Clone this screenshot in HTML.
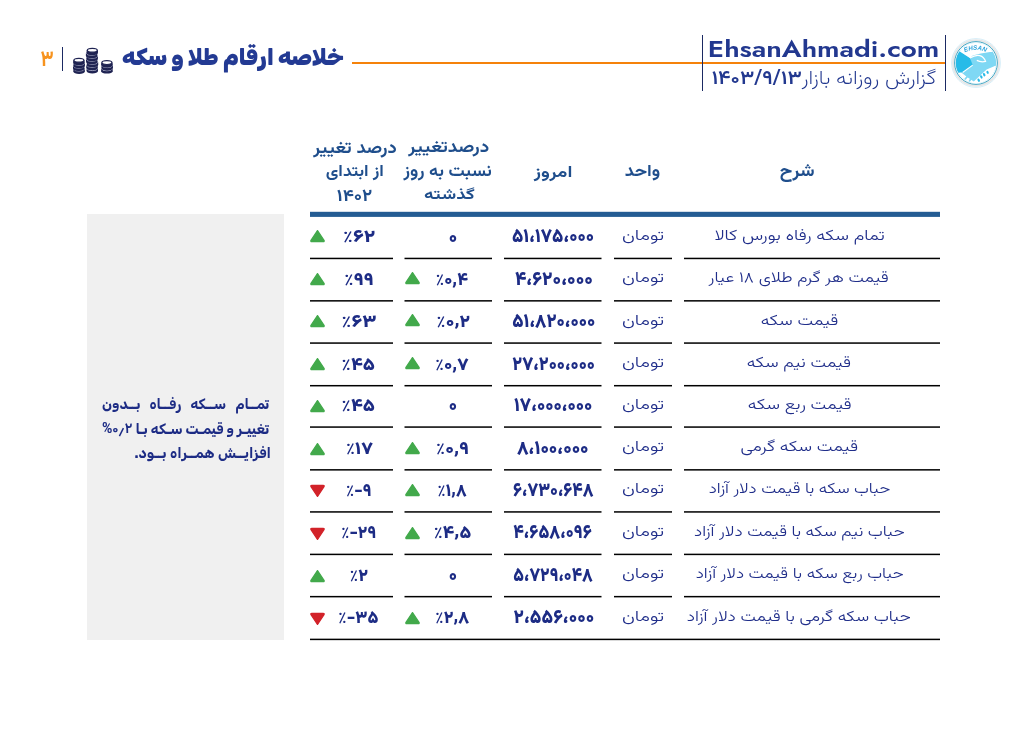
<!DOCTYPE html>
<html lang="fa" dir="rtl">
<head>
<meta charset="utf-8">
<title>خلاصه ارقام طلا و سکه</title>
<style>
html,body{margin:0;padding:0;background:#fff;}
body{width:1032px;height:729px;position:relative;overflow:hidden;
 font-family:"Vazirmatn","DejaVu Sans",sans-serif;color:#2b3990;}
body.fbv .c1,body.fbv .c2,body.fbv #sub{font-weight:400;}
body.fbr .note{font-size:11.5px;}
.a{position:absolute;white-space:nowrap;}
.hl{position:absolute;background:#f5820a;height:2px;}
.vl{position:absolute;background:#1b2a63;width:1.5px;}
#title{font-family:"Rubik","DejaVu Sans",sans-serif;font-weight:900;font-size:25px;color:#233a93;line-height:36px;}
#pg{font-size:21px;color:#f7931e;font-weight:700;line-height:28px;}
#site{font-family:"Jost","Liberation Sans",sans-serif;font-weight:600;font-size:25.5px;color:#22388f;line-height:34px;direction:ltr;}
#sub{font-size:19px;color:#22388f;line-height:30px;font-weight:220;}
#date{font-size:19px;color:#22388f;line-height:30px;font-weight:600;}
.th{position:absolute;text-align:center;color:#1f4e8c;font-weight:700;font-size:15px;line-height:23.7px;white-space:nowrap;}
.ln{position:absolute;height:1.6px;background:#111;}
.blue{position:absolute;left:310px;width:630px;top:212px;height:5px;background:#245a94;}
.c{position:absolute;text-align:center;height:42px;line-height:42px;white-space:nowrap;}
.t{display:inline-block;transform-origin:0 0;}
.c1{left:660px;width:280px;font-size:15px;font-weight:360;color:#202e8a;}
.c2{left:614px;width:58px;font-size:15px;font-weight:360;color:#202e8a;}
.c3{left:504px;width:97px;font-size:18.5px;font-weight:900;color:#1d2c85;}
.c4{left:414px;width:78px;font-size:17.5px;font-weight:900;color:#1d2c85;}
.c4z{left:404.5px;width:87.5px;font-size:16px;font-weight:800;color:#1d2c85;}
.c5{left:325px;width:68px;font-size:17.5px;font-weight:900;color:#1d2c85;}
.n{direction:ltr;unicode-bidi:bidi-override;}
.pc{font-weight:400;}
.cm{position:relative;top:-1.6px;}
.grey{position:absolute;left:87px;top:214.4px;width:197px;height:425.3px;background:#f0f0f0;}
.note{position:absolute;transform-origin:0 0;font-family:"Rubik","DejaVu Sans",sans-serif;font-size:14px;font-weight:700;color:#1d2c85;line-height:24px;white-space:nowrap;display:flex;justify-content:space-between;direction:rtl;}
</style>
</head>
<body>
<!-- header -->
<div class="hl" style="left:352px;width:593px;top:62.2px;"></div>
<div class="a" style="left:123px;top:40px"><span id="title" class="t" style="transform:translate(-0.88px,2.45px) scale(0.8835,0.8835)">خلاصه ارقام طلا و سکه</span></div>
<div class="vl" style="left:61.5px;top:47px;height:23.5px;"></div>
<div class="a" style="left:38px;top:44px"><span id="pg" class="t" style="transform:translate(2.58px,2.23px) scale(0.9231,1.0536)">۳</span></div>
<svg id="coins" class="a" style="left:70px;top:44px" width="46" height="31" viewBox="0 0 46 31">
<ellipse cx="9.10" cy="27.50" rx="5.7" ry="2.4" fill="#1f2352"/>
<rect x="3.40" y="25.10" width="11.4" height="2.4" fill="#1f2352"/>
<ellipse cx="9.10" cy="25.10" rx="5.2" ry="2.0" fill="#1f2352" stroke="#c9cbe0" stroke-width="0.7"/>
<ellipse cx="8.70" cy="24.60" rx="5.7" ry="2.4" fill="#1f2352"/>
<rect x="3.00" y="22.20" width="11.4" height="2.4" fill="#1f2352"/>
<ellipse cx="8.70" cy="22.20" rx="5.2" ry="2.0" fill="#1f2352" stroke="#c9cbe0" stroke-width="0.7"/>
<ellipse cx="9.20" cy="21.70" rx="5.7" ry="2.4" fill="#1f2352"/>
<rect x="3.50" y="19.30" width="11.4" height="2.4" fill="#1f2352"/>
<ellipse cx="9.20" cy="19.30" rx="5.2" ry="2.0" fill="#1f2352" stroke="#c9cbe0" stroke-width="0.7"/>
<ellipse cx="8.90" cy="18.70" rx="5.7" ry="2.4" fill="#1f2352"/>
<rect x="3.20" y="16.30" width="11.4" height="2.4" fill="#1f2352"/>
<ellipse cx="8.90" cy="16.30" rx="5.0" ry="1.9" fill="#fff" stroke="#1f2352" stroke-width="1.2"/>
<ellipse cx="22.30" cy="27.00" rx="5.7" ry="2.4" fill="#1f2352"/>
<rect x="16.60" y="24.60" width="11.4" height="2.4" fill="#1f2352"/>
<ellipse cx="22.30" cy="24.60" rx="5.2" ry="2.0" fill="#1f2352" stroke="#c9cbe0" stroke-width="0.7"/>
<ellipse cx="22.00" cy="23.70" rx="5.7" ry="2.4" fill="#1f2352"/>
<rect x="16.30" y="21.30" width="11.4" height="2.4" fill="#1f2352"/>
<ellipse cx="22.00" cy="21.30" rx="5.2" ry="2.0" fill="#1f2352" stroke="#c9cbe0" stroke-width="0.7"/>
<ellipse cx="22.50" cy="20.70" rx="5.7" ry="2.4" fill="#1f2352"/>
<rect x="16.80" y="18.30" width="11.4" height="2.4" fill="#1f2352"/>
<ellipse cx="22.50" cy="18.30" rx="5.2" ry="2.0" fill="#1f2352" stroke="#c9cbe0" stroke-width="0.7"/>
<ellipse cx="21.70" cy="17.70" rx="5.7" ry="2.4" fill="#1f2352"/>
<rect x="16.00" y="15.30" width="11.4" height="2.4" fill="#1f2352"/>
<ellipse cx="21.70" cy="15.30" rx="5.2" ry="2.0" fill="#1f2352" stroke="#c9cbe0" stroke-width="0.7"/>
<ellipse cx="22.20" cy="14.70" rx="5.7" ry="2.4" fill="#1f2352"/>
<rect x="16.50" y="12.30" width="11.4" height="2.4" fill="#1f2352"/>
<ellipse cx="22.20" cy="12.30" rx="5.2" ry="2.0" fill="#1f2352" stroke="#c9cbe0" stroke-width="0.7"/>
<ellipse cx="21.60" cy="11.70" rx="5.7" ry="2.4" fill="#1f2352"/>
<rect x="15.90" y="9.30" width="11.4" height="2.4" fill="#1f2352"/>
<ellipse cx="21.60" cy="9.30" rx="5.2" ry="2.0" fill="#1f2352" stroke="#c9cbe0" stroke-width="0.7"/>
<ellipse cx="22.30" cy="8.70" rx="5.7" ry="2.4" fill="#1f2352"/>
<rect x="16.60" y="6.30" width="11.4" height="2.4" fill="#1f2352"/>
<ellipse cx="22.30" cy="6.30" rx="5.0" ry="1.9" fill="#fff" stroke="#1f2352" stroke-width="1.2"/>
<ellipse cx="36.90" cy="27.20" rx="5.7" ry="2.4" fill="#1f2352"/>
<rect x="31.20" y="24.80" width="11.4" height="2.4" fill="#1f2352"/>
<ellipse cx="36.90" cy="24.80" rx="5.2" ry="2.0" fill="#1f2352" stroke="#c9cbe0" stroke-width="0.7"/>
<ellipse cx="37.20" cy="24.00" rx="5.7" ry="2.4" fill="#1f2352"/>
<rect x="31.50" y="21.60" width="11.4" height="2.4" fill="#1f2352"/>
<ellipse cx="37.20" cy="21.60" rx="5.2" ry="2.0" fill="#1f2352" stroke="#c9cbe0" stroke-width="0.7"/>
<ellipse cx="36.90" cy="21.00" rx="5.7" ry="2.4" fill="#1f2352"/>
<rect x="31.20" y="18.60" width="11.4" height="2.4" fill="#1f2352"/>
<ellipse cx="36.90" cy="18.60" rx="5.0" ry="1.9" fill="#fff" stroke="#1f2352" stroke-width="1.2"/>
</svg>
<div class="vl" style="left:701.5px;top:35px;height:56px;"></div>
<div class="a" style="left:708px;top:30px;direction:ltr"><span id="site" class="t" style="transform:translate(-0.18px,3.88px) scale(1.0914,0.9250)">EhsanAhmadi.com</span></div>
<div class="a" style="left:803px;top:64px"><span id="sub" class="t" style="transform:translate(-1.60px,0.12px) scale(1.1311,1.0450)">گزارش روزانه بازار</span></div>
<div class="a" style="left:712px;top:64px"><span id="date" class="t n" style="transform:translate(-0.37px,0.40px) scale(1.1203,1.0167)">۱۴۰۳/۹/۱۳</span></div>
<div class="vl" style="left:944.8px;top:35.2px;height:56px;"></div>
<svg id="logo" class="a" style="left:949.6px;top:37px" width="52" height="52" viewBox="0 0 52 52">
 <defs><clipPath id="lc"><circle cx="26" cy="26" r="20.2"/></clipPath>
 <path id="arc" d="M11.5 17.2 Q25 8.6 39.5 16.6" fill="none"/></defs>
 <circle cx="26" cy="26" r="24.4" fill="#fbfdfe" stroke="#d2ecf7" stroke-width="0.9"/>
 <circle cx="26" cy="26" r="22.9" fill="none" stroke="#e6e6e6" stroke-width="1.8"/>
 <circle cx="26" cy="26" r="21.4" fill="#fff" stroke="#2f9cbc" stroke-width="0.9"/>
 <g clip-path="url(#lc)">
  <rect x="0" y="0" width="52" height="52" fill="#7fd8f4"/>
  <path d="M0 12.5 L9.5 14.2 L19.9 20.9 L22.7 28.1 L12.6 35.5 L0 37 Z" fill="#27bbe8"/>
  <path d="M0 0 H52 V14.5 L40 14.9 Q30 16.2 22.8 18.6 L19.9 20.9 L9.5 14.2 L0 12.5 Z" fill="#fff"/>
  <path d="M0 36.5 L11.4 35.6 L17 40 L23.8 44.6 L36.6 32.4 L44.8 28.9 L52 27.5 V52 H0 Z" fill="#fff"/>
  <path d="M15.2 42 L20.2 36.4 M19.6 43.8 L22.6 39.8" stroke="#7fd8f4" stroke-width="1.7" stroke-linecap="round"/>
  <g fill="#27bbe8">
   <ellipse cx="28.7" cy="43.2" rx="1.1" ry="1.8" transform="rotate(-25 28.7 43.2)"/>
   <ellipse cx="31.3" cy="39.9" rx="1.1" ry="1.8" transform="rotate(-25 31.3 39.9)"/>
   <ellipse cx="34.2" cy="37.7" rx="1.1" ry="1.8" transform="rotate(-25 34.2 37.7)"/>
   <ellipse cx="37.6" cy="35.4" rx="1.1" ry="1.6" transform="rotate(-25 37.6 35.4)"/>
  </g>
  <path d="M19.9 21 Q25.5 17.6 29.8 18.6 Q34 19.8 35.6 24.4 Q31 25.6 26.8 23.4" fill="none" stroke="#fff" stroke-width="1.2"/>
  <path d="M22.7 28.1 L12.6 35.5" stroke="#fff" stroke-width="1.1"/>
 </g>
 <text font-family="Liberation Sans,sans-serif" font-weight="bold" font-style="italic" font-size="6.3" fill="#2aa3dc"><textPath href="#arc" startOffset="50%" text-anchor="middle">EHSAN</textPath></text>
</svg>
<!-- table header -->
<div class="th" style="left:684px;width:256px;top:160px;"><span id="h1" class="t" style="transform:translate(-18.28px,-1.83px) scale(1.2375,1.1667)">شرح</span></div>
<div class="th" style="left:614px;width:58px;top:160px;"><span id="h2" class="t" style="transform:translate(-3.13px,-0.71px) scale(1.2143,1.1214)">واحد</span></div>
<div class="th" style="left:504px;width:97px;top:160px;"><span id="h3" class="t" style="transform:translate(-2.99px,0.99px) scale(1.2700,1.0429)">امروز</span></div>
<div class="th" style="left:395px;width:106px;top:137px;"><span id="h4a" class="t" style="transform:translate(-7.77px,-1.39px) scale(1.2698,1.1154)">درصدتغییر</span></div>
<div class="th" style="left:395px;width:106px;top:161px;"><span id="h4b" class="t" style="transform:translate(-7.61px,-1.69px) scale(1.1945,1.1154)">نسبت به روز</span></div>
<div class="th" style="left:395px;width:106px;top:184px;"><span id="h4c" class="t" style="transform:translate(-3.88px,0.90px) scale(1.2475,0.9667)">گذشته</span></div>
<div class="th" style="left:300px;width:103px;top:137px;"><span id="h5a" class="t" style="transform:translate(-4.83px,-1.53px) scale(1.2368,1.1385)">درصد تغییر</span></div>
<div class="th" style="left:300px;width:103px;top:161px;"><span id="h5b" class="t" style="transform:translate(-1.27px,-0.18px) scale(1.1673,1.0357)">از ابتدای</span></div>
<div class="th" style="left:300px;width:103px;top:184px;"><span id="h5c" class="t" style="transform:translate(-0.16px,0.10px) scale(1.2556,1.1200)">۱۴۰۲</span></div>
<div class="grey"></div>
<div id="note1" class="note" style="left:102px;width:167px;top:391px;transform:translate(0.00px,2.20px) scale(1.0018,1.0000)"><span>تمــام</span><span>ســکه</span><span>رفــاه</span><span>بــدون</span></div>
<div id="note2" class="note" style="left:102px;width:167px;top:416px;transform:translate(0.00px,1.80px) scale(1.0018,1.0000)"><span>تغییـر</span><span>و</span><span>قیمـت</span><span>سـکه</span><span>بـا</span><span class="n" style="font-family:Vazirmatn,'DejaVu Sans',sans-serif">%۰٫۲</span></div>
<div id="note3" class="note" style="left:134.6px;width:134.7px;top:440px;transform:translate(-0.41px,1.70px) scale(1.0128,1.0000)"><span>افزایــش</span><span>همــراه</span><span>بــود.</span></div>
<svg class="a" style="left:0;top:0" width="1032" height="729" viewBox="0 0 1032 729"><g fill="#000"><rect x="310" y="257.70" width="83" height="1.5"/><rect x="404.5" y="257.70" width="87.5" height="1.5"/><rect x="504" y="257.70" width="97.5" height="1.5"/><rect x="614" y="257.70" width="58" height="1.5"/><rect x="684" y="257.70" width="256" height="1.5"/><rect x="310" y="300.10" width="83" height="1.5"/><rect x="404.5" y="300.10" width="87.5" height="1.5"/><rect x="504" y="300.10" width="97.5" height="1.5"/><rect x="614" y="300.10" width="58" height="1.5"/><rect x="684" y="300.10" width="256" height="1.5"/><rect x="310" y="342.32" width="83" height="1.5"/><rect x="404.5" y="342.32" width="87.5" height="1.5"/><rect x="504" y="342.32" width="97.5" height="1.5"/><rect x="614" y="342.32" width="58" height="1.5"/><rect x="684" y="342.32" width="256" height="1.5"/><rect x="310" y="384.95" width="83" height="1.5"/><rect x="404.5" y="384.95" width="87.5" height="1.5"/><rect x="504" y="384.95" width="97.5" height="1.5"/><rect x="614" y="384.95" width="58" height="1.5"/><rect x="684" y="384.95" width="256" height="1.5"/><rect x="310" y="426.32" width="83" height="1.5"/><rect x="404.5" y="426.32" width="87.5" height="1.5"/><rect x="504" y="426.32" width="97.5" height="1.5"/><rect x="614" y="426.32" width="58" height="1.5"/><rect x="684" y="426.32" width="256" height="1.5"/><rect x="310" y="469.10" width="83" height="1.5"/><rect x="404.5" y="469.10" width="87.5" height="1.5"/><rect x="504" y="469.10" width="97.5" height="1.5"/><rect x="614" y="469.10" width="58" height="1.5"/><rect x="684" y="469.10" width="256" height="1.5"/><rect x="310" y="511.18" width="83" height="1.5"/><rect x="404.5" y="511.18" width="87.5" height="1.5"/><rect x="504" y="511.18" width="97.5" height="1.5"/><rect x="614" y="511.18" width="58" height="1.5"/><rect x="684" y="511.18" width="256" height="1.5"/><rect x="310" y="553.65" width="83" height="1.5"/><rect x="404.5" y="553.65" width="87.5" height="1.5"/><rect x="504" y="553.65" width="97.5" height="1.5"/><rect x="614" y="553.65" width="58" height="1.5"/><rect x="684" y="553.65" width="256" height="1.5"/><rect x="310" y="595.90" width="83" height="1.5"/><rect x="404.5" y="595.90" width="87.5" height="1.5"/><rect x="504" y="595.90" width="97.5" height="1.5"/><rect x="614" y="595.90" width="58" height="1.5"/><rect x="684" y="595.90" width="256" height="1.5"/><rect x="310" y="638.65" width="630" height="1.5"/><rect x="310" y="211.8" width="630" height="5.1" fill="#245c93"/></g></svg>
<div class="c c1" style="top:217.0px"><span id="r0c1" class="t" style="transform:translate(-14.60px,-1.05px) scale(1.1993,1.0000)">تمام سکه رفاه بورس کالا</span></div>
<div class="c c2" style="top:217.0px"><span id="r0c2" class="t" style="transform:translate(-4.05px,-1.05px) scale(1.2781,1.0000)">تومان</span></div>
<div class="c c3" style="top:217.0px"><span id="r0c3" class="t n" style="transform:translate(1.01px,-0.65px) scale(0.9914,1.0400)">۵۱،۱۷۵،۰۰۰</span></div>
<div class="c c4" style="top:217.0px"><span id="r0c4" class="t" style="transform:translate(-0.26px,-1.80px) scale(1.0667,1.1000)">۰</span></div>
<div class="c c5" style="top:217.0px"><span id="r0c5" class="t n" style="transform:translate(-2.23px,0.35px) scale(1.1962,1.0000)"><span class="pc">٪</span>۶۲</span></div>
<svg id="r0t5" class="a" style="left:309.3px;top:229.2px" width="17" height="14" viewBox="0 0 17 14"><path d="M8.5 1.6 L15 11.4 Q15.6 12.6 14.2 12.6 L2.8 12.6 Q1.4 12.6 2 11.4 Z" fill="#42a94b" stroke="#42a94b" stroke-width="1.3" stroke-linejoin="round"/></svg>
<div class="c c1" style="top:258.4px"><span id="r1c1" class="t" style="transform:translate(-13.40px,0.35px) scale(1.1604,1.0000)">قیمت هر گرم طلای ۱۸ عیار</span></div>
<div class="c c2" style="top:258.4px"><span id="r1c2" class="t" style="transform:translate(-4.05px,0.35px) scale(1.2781,1.0000)">تومان</span></div>
<div class="c c3" style="top:258.4px"><span id="r1c3" class="t n" style="transform:translate(-0.11px,0.77px) scale(1.0284,1.0400)">۴،۶۲۰،۰۰۰</span></div>
<div class="c c4" style="top:258.4px"><span id="r1c4" class="t n" style="transform:translate(-1.62px,1.75px) scale(1.0258,1.0000)"><span class="pc">٪</span>۰<span class="cm">,</span>۴</span></div>
<svg id="r1t4" class="a" style="left:404.0px;top:270.8px" width="17" height="14" viewBox="0 0 17 14"><path d="M8.5 1.6 L15 11.4 Q15.6 12.6 14.2 12.6 L2.8 12.6 Q1.4 12.6 2 11.4 Z" fill="#42a94b" stroke="#42a94b" stroke-width="1.3" stroke-linejoin="round"/></svg>
<div class="c c5" style="top:258.4px"><span id="r1c5" class="t n" style="transform:translate(-2.05px,1.75px) scale(1.1292,1.0000)"><span class="pc">٪</span>۹۹</span></div>
<svg id="r1t5" class="a" style="left:309.3px;top:271.8px" width="17" height="14" viewBox="0 0 17 14"><path d="M8.5 1.6 L15 11.4 Q15.6 12.6 14.2 12.6 L2.8 12.6 Q1.4 12.6 2 11.4 Z" fill="#42a94b" stroke="#42a94b" stroke-width="1.3" stroke-linejoin="round"/></svg>
<div class="c c1" style="top:300.9px"><span id="r2c1" class="t" style="transform:translate(-6.27px,-0.43px) scale(1.1766,1.0000)">قیمت سکه</span></div>
<div class="c c2" style="top:300.9px"><span id="r2c2" class="t" style="transform:translate(-4.05px,-0.43px) scale(1.2781,1.0000)">تومان</span></div>
<div class="c c3" style="top:300.9px"><span id="r2c3" class="t n" style="transform:translate(1.20px,-0.03px) scale(0.9915,1.0400)">۵۱،۸۲۰،۰۰۰</span></div>
<div class="c c4" style="top:300.9px"><span id="r2c4" class="t n" style="transform:translate(-1.64px,0.97px) scale(1.0931,1.0000)"><span class="pc">٪</span>۰<span class="cm">,</span>۲</span></div>
<svg id="r2t4" class="a" style="left:404.0px;top:313.2px" width="17" height="14" viewBox="0 0 17 14"><path d="M8.5 1.6 L15 11.4 Q15.6 12.6 14.2 12.6 L2.8 12.6 Q1.4 12.6 2 11.4 Z" fill="#42a94b" stroke="#42a94b" stroke-width="1.3" stroke-linejoin="round"/></svg>
<div class="c c5" style="top:300.9px"><span id="r2c5" class="t n" style="transform:translate(-2.76px,0.97px) scale(1.1857,1.0000)"><span class="pc">٪</span>۶۳</span></div>
<svg id="r2t5" class="a" style="left:309.3px;top:314.2px" width="17" height="14" viewBox="0 0 17 14"><path d="M8.5 1.6 L15 11.4 Q15.6 12.6 14.2 12.6 L2.8 12.6 Q1.4 12.6 2 11.4 Z" fill="#42a94b" stroke="#42a94b" stroke-width="1.3" stroke-linejoin="round"/></svg>
<div class="c c1" style="top:343.1px"><span id="r3c1" class="t" style="transform:translate(-8.19px,0.20px) scale(1.1705,1.0000)">قیمت نیم سکه</span></div>
<div class="c c2" style="top:343.1px"><span id="r3c2" class="t" style="transform:translate(-4.05px,0.20px) scale(1.2781,1.0000)">تومان</span></div>
<div class="c c3" style="top:343.1px"><span id="r3c3" class="t n" style="transform:translate(2.20px,0.60px) scale(0.9714,1.0400)">۲۷،۲۰۰،۰۰۰</span></div>
<div class="c c4" style="top:343.1px"><span id="r3c4" class="t n" style="transform:translate(-2.05px,1.60px) scale(1.0516,1.0000)"><span class="pc">٪</span>۰<span class="cm">,</span>۷</span></div>
<svg id="r3t4" class="a" style="left:404.0px;top:355.8px" width="17" height="14" viewBox="0 0 17 14"><path d="M8.5 1.6 L15 11.4 Q15.6 12.6 14.2 12.6 L2.8 12.6 Q1.4 12.6 2 11.4 Z" fill="#42a94b" stroke="#42a94b" stroke-width="1.3" stroke-linejoin="round"/></svg>
<div class="c c5" style="top:343.1px"><span id="r3c5" class="t n" style="transform:translate(-2.72px,1.60px) scale(1.1241,1.0000)"><span class="pc">٪</span>۴۵</span></div>
<svg id="r3t5" class="a" style="left:309.3px;top:356.8px" width="17" height="14" viewBox="0 0 17 14"><path d="M8.5 1.6 L15 11.4 Q15.6 12.6 14.2 12.6 L2.8 12.6 Q1.4 12.6 2 11.4 Z" fill="#42a94b" stroke="#42a94b" stroke-width="1.3" stroke-linejoin="round"/></svg>
<div class="c c1" style="top:385.7px"><span id="r4c1" class="t" style="transform:translate(-8.18px,-1.43px) scale(1.1802,1.0000)">قیمت ربع سکه</span></div>
<div class="c c2" style="top:385.7px"><span id="r4c2" class="t" style="transform:translate(-4.05px,-1.43px) scale(1.2781,1.0000)">تومان</span></div>
<div class="c c3" style="top:385.7px"><span id="r4c3" class="t n" style="transform:translate(1.01px,-1.04px) scale(0.9935,1.0400)">۱۷،۰۰۰،۰۰۰</span></div>
<div class="c c4" style="top:385.7px"><span id="r4c4" class="t" style="transform:translate(-0.15px,-2.21px) scale(1.0500,1.1000)">۰</span></div>
<div class="c c5" style="top:385.7px"><span id="r4c5" class="t n" style="transform:translate(-2.72px,-0.03px) scale(1.1241,1.0000)"><span class="pc">٪</span>۴۵</span></div>
<svg id="r4t5" class="a" style="left:309.3px;top:399.2px" width="17" height="14" viewBox="0 0 17 14"><path d="M8.5 1.6 L15 11.4 Q15.6 12.6 14.2 12.6 L2.8 12.6 Q1.4 12.6 2 11.4 Z" fill="#42a94b" stroke="#42a94b" stroke-width="1.3" stroke-linejoin="round"/></svg>
<div class="c c1" style="top:427.1px"><span id="r5c1" class="t" style="transform:translate(-9.50px,0.35px) scale(1.1867,1.0000)">قیمت سکه گرمی</span></div>
<div class="c c2" style="top:427.1px"><span id="r5c2" class="t" style="transform:translate(-4.05px,0.35px) scale(1.2781,1.0000)">تومان</span></div>
<div class="c c3" style="top:427.1px"><span id="r5c3" class="t n" style="transform:translate(-0.01px,0.75px) scale(1.0145,1.0400)">۸،۱۰۰،۰۰۰</span></div>
<div class="c c4" style="top:427.1px"><span id="r5c4" class="t n" style="transform:translate(-2.21px,1.75px) scale(1.1000,1.0000)"><span class="pc">٪</span>۰<span class="cm">,</span>۹</span></div>
<svg id="r5t4" class="a" style="left:404.0px;top:440.8px" width="17" height="14" viewBox="0 0 17 14"><path d="M8.5 1.6 L15 11.4 Q15.6 12.6 14.2 12.6 L2.8 12.6 Q1.4 12.6 2 11.4 Z" fill="#42a94b" stroke="#42a94b" stroke-width="1.3" stroke-linejoin="round"/></svg>
<div class="c c5" style="top:427.1px"><span id="r5c5" class="t n" style="transform:translate(-1.34px,1.75px) scale(1.0913,1.0000)"><span class="pc">٪</span>۱۷</span></div>
<svg id="r5t5" class="a" style="left:309.3px;top:441.8px" width="17" height="14" viewBox="0 0 17 14"><path d="M8.5 1.6 L15 11.4 Q15.6 12.6 14.2 12.6 L2.8 12.6 Q1.4 12.6 2 11.4 Z" fill="#42a94b" stroke="#42a94b" stroke-width="1.3" stroke-linejoin="round"/></svg>
<div class="c c1" style="top:469.9px"><span id="r6c1" class="t" style="transform:translate(-11.24px,-0.57px) scale(1.1300,1.0000)">حباب سکه با قیمت دلار آزاد</span></div>
<div class="c c2" style="top:469.9px"><span id="r6c2" class="t" style="transform:translate(-4.05px,-0.57px) scale(1.2781,1.0000)">تومان</span></div>
<div class="c c3" style="top:469.9px"><span id="r6c3" class="t n" style="transform:translate(3.02px,-0.17px) scale(0.9400,1.0400)">۶،۷۳۰،۶۴۸</span></div>
<div class="c c4" style="top:469.9px"><span id="r6c4" class="t n" style="transform:translate(-0.69px,0.83px) scale(0.9862,1.0000)"><span class="pc">٪</span>۱<span class="cm">,</span>۸</span></div>
<svg id="r6t4" class="a" style="left:404.0px;top:483.2px" width="17" height="14" viewBox="0 0 17 14"><path d="M8.5 1.6 L15 11.4 Q15.6 12.6 14.2 12.6 L2.8 12.6 Q1.4 12.6 2 11.4 Z" fill="#42a94b" stroke="#42a94b" stroke-width="1.3" stroke-linejoin="round"/></svg>
<div class="c c5" style="top:469.9px"><span id="r6c5" class="t n" style="transform:translate(-0.20px,0.83px) scale(0.9958,1.0000)"><span class="pc">٪</span>-۹</span></div>
<svg id="r6t5" class="a" style="left:309.3px;top:484.4px" width="17" height="14" viewBox="0 0 17 14"><path d="M8.5 12.4 L15 2.6 Q15.6 1.4 14.2 1.4 L2.8 1.4 Q1.4 1.4 2 2.6 Z" fill="#d22229" stroke="#d22229" stroke-width="1.3" stroke-linejoin="round"/></svg>
<div class="c c1" style="top:511.9px"><span id="r7c1" class="t" style="transform:translate(-13.93px,-0.10px) scale(1.1451,1.0000)">حباب نیم سکه با قیمت دلار آزاد</span></div>
<div class="c c2" style="top:511.9px"><span id="r7c2" class="t" style="transform:translate(-4.05px,-0.10px) scale(1.2781,1.0000)">تومان</span></div>
<div class="c c3" style="top:511.9px"><span id="r7c3" class="t n" style="transform:translate(2.23px,0.30px) scale(0.9543,1.0400)">۴،۶۵۸،۰۹۶</span></div>
<div class="c c4" style="top:511.9px"><span id="r7c4" class="t n" style="transform:translate(-2.52px,1.30px) scale(1.0909,1.0000)"><span class="pc">٪</span>۴<span class="cm">,</span>۵</span></div>
<svg id="r7t4" class="a" style="left:404.0px;top:525.8px" width="17" height="14" viewBox="0 0 17 14"><path d="M8.5 1.6 L15 11.4 Q15.6 12.6 14.2 12.6 L2.8 12.6 Q1.4 12.6 2 11.4 Z" fill="#42a94b" stroke="#42a94b" stroke-width="1.3" stroke-linejoin="round"/></svg>
<div class="c c5" style="top:511.9px"><span id="r7c5" class="t n" style="transform:translate(-0.09px,1.30px) scale(0.9912,1.0000)"><span class="pc">٪</span>-۲۹</span></div>
<svg id="r7t5" class="a" style="left:309.3px;top:527.0px" width="17" height="14" viewBox="0 0 17 14"><path d="M8.5 12.4 L15 2.6 Q15.6 1.4 14.2 1.4 L2.8 1.4 Q1.4 1.4 2 2.6 Z" fill="#d22229" stroke="#d22229" stroke-width="1.3" stroke-linejoin="round"/></svg>
<div class="c c1" style="top:554.4px"><span id="r8c1" class="t" style="transform:translate(-13.25px,0.15px) scale(1.1385,1.0000)">حباب ربع سکه با قیمت دلار آزاد</span></div>
<div class="c c2" style="top:554.4px"><span id="r8c2" class="t" style="transform:translate(-4.05px,0.15px) scale(1.2781,1.0000)">تومان</span></div>
<div class="c c3" style="top:554.4px"><span id="r8c3" class="t n" style="transform:translate(3.26px,0.57px) scale(0.9373,1.0400)">۵،۷۲۹،۰۴۸</span></div>
<div class="c c4" style="top:554.4px"><span id="r8c4" class="t" style="transform:translate(-0.15px,-0.56px) scale(1.0500,1.1000)">۰</span></div>
<div class="c c5" style="top:554.4px"><span id="r8c5" class="t n" style="transform:translate(-0.52px,1.55px) scale(1.0176,1.0000)"><span class="pc">٪</span>۲</span></div>
<svg id="r8t5" class="a" style="left:309.3px;top:569.2px" width="17" height="14" viewBox="0 0 17 14"><path d="M8.5 1.6 L15 11.4 Q15.6 12.6 14.2 12.6 L2.8 12.6 Q1.4 12.6 2 11.4 Z" fill="#42a94b" stroke="#42a94b" stroke-width="1.3" stroke-linejoin="round"/></svg>
<div class="c c1" style="top:596.6px"><span id="r9c1" class="t" style="transform:translate(-16.14px,-0.10px) scale(1.1552,1.0000)">حباب سکه گرمی با قیمت دلار آزاد</span></div>
<div class="c c2" style="top:596.6px"><span id="r9c2" class="t" style="transform:translate(-4.05px,-0.10px) scale(1.2781,1.0000)">تومان</span></div>
<div class="c c3" style="top:596.6px"><span id="r9c3" class="t n" style="transform:translate(0.60px,0.28px) scale(1.0167,1.0400)">۲،۵۵۶،۰۰۰</span></div>
<div class="c c4" style="top:596.6px"><span id="r9c4" class="t n" style="transform:translate(-1.01px,1.30px) scale(1.0061,1.0000)"><span class="pc">٪</span>۲<span class="cm">,</span>۸</span></div>
<svg id="r9t4" class="a" style="left:404.0px;top:610.8px" width="17" height="14" viewBox="0 0 17 14"><path d="M8.5 1.6 L15 11.4 Q15.6 12.6 14.2 12.6 L2.8 12.6 Q1.4 12.6 2 11.4 Z" fill="#42a94b" stroke="#42a94b" stroke-width="1.3" stroke-linejoin="round"/></svg>
<div class="c c5" style="top:596.6px"><span id="r9c5" class="t n" style="transform:translate(-1.01px,1.30px) scale(1.0128,1.0000)"><span class="pc">٪</span>-۳۵</span></div>
<svg id="r9t5" class="a" style="left:309.3px;top:612.0px" width="17" height="14" viewBox="0 0 17 14"><path d="M8.5 12.4 L15 2.6 Q15.6 1.4 14.2 1.4 L2.8 1.4 Q1.4 1.4 2 2.6 Z" fill="#d22229" stroke="#d22229" stroke-width="1.3" stroke-linejoin="round"/></svg>
<script>
(function(){
function has(f){var c=document.createElement('canvas').getContext('2d'),s='mmmmmmmmmmlliWWW@#',r=false;
['monospace','serif'].forEach(function(g){c.font='40px '+g;var a=c.measureText(s).width;c.font='40px "'+f+'",'+g;if(c.measureText(s).width!==a)r=true;});return r;}
var FB={"r0c1":"translate(-5.44px,-2.05px) scale(1.0627,1.0000)","r0c2":"translate(-3.06px,-3.05px) scale(1.2029,1.0000)","r0c3":"translate(16.08px,-2.73px) scale(0.8030,1.0400)","r0c4":"translate(-3.21px,-28.20px) scale(1.6000,2.2000)","r0c5":"translate(-1.20px,-1.65px) scale(1.0724,1.0000)","r1c1":"translate(-2.27px,-1.65px) scale(1.0270,1.0000)","r1c2":"translate(-3.06px,-1.65px) scale(1.2029,1.0000)","r1c3":"translate(8.91px,-1.31px) scale(0.8551,1.0400)","r1c4":"translate(1.48px,-0.25px) scale(0.8833,1.0000)","r1c5":"translate(0.19px,-0.25px) scale(0.9345,1.0000)","r2c1":"translate(-5.30px,-1.43px) scale(1.1409,1.0000)","r2c2":"translate(-3.06px,-2.43px) scale(1.2029,1.0000)","r2c3":"translate(15.27px,-2.11px) scale(0.8130,1.0400)","r2c4":"translate(2.60px,-1.03px) scale(0.8568,1.0000)","r2c5":"translate(-2.80px,-1.03px) scale(1.1448,1.0000)","r3c1":"translate(-7.26px,-0.80px) scale(1.1444,1.0000)","r3c2":"translate(-3.06px,-1.80px) scale(1.2029,1.0000)","r3c3":"translate(15.27px,-1.48px) scale(0.8160,1.0400)","r3c4":"translate(1.07px,-0.40px) scale(0.9056,1.0000)","r3c5":"translate(-2.77px,-0.40px) scale(1.1241,1.0000)","r4c1":"translate(-6.19px,-2.43px) scale(1.1278,1.0000)","r4c2":"translate(-3.06px,-3.43px) scale(1.2029,1.0000)","r4c3":"translate(16.52px,-3.12px) scale(0.7806,1.0400)","r4c4":"translate(-3.02px,-28.95px) scale(1.5750,2.2000)","r4c5":"translate(-2.77px,-2.03px) scale(1.1241,1.0000)","r5c1":"translate(-4.46px,-0.65px) scale(1.0769,1.0000)","r5c2":"translate(-3.06px,-1.65px) scale(1.2029,1.0000)","r5c3":"translate(12.01px,-1.33px) scale(0.7865,1.0400)","r5c4":"translate(2.00px,-0.25px) scale(0.8556,1.0000)","r5c5":"translate(1.99px,-0.25px) scale(0.8655,1.0000)","r6c1":"translate(-5.25px,-1.57px) scale(1.0512,1.0000)","r6c2":"translate(-3.06px,-2.57px) scale(1.2029,1.0000)","r6c3":"translate(5.25px,-2.25px) scale(0.8780,1.0400)","r6c4":"translate(3.45px,-1.17px) scale(0.7944,1.0000)","r6c5":"translate(0.86px,-1.17px) scale(0.9192,1.0000)","r7c1":"translate(-6.84px,-1.10px) scale(1.0633,1.0000)","r7c2":"translate(-3.06px,-2.10px) scale(1.2029,1.0000)","r7c3":"translate(8.21px,-1.78px) scale(0.8495,1.0400)","r7c4":"translate(-0.40px,-0.70px) scale(1.0000,1.0000)","r7c5":"translate(0.99px,-0.70px) scale(0.9108,1.0000)","r8c1":"translate(-6.26px,-0.85px) scale(1.0571,1.0000)","r8c2":"translate(-3.06px,-1.85px) scale(1.2029,1.0000)","r8c3":"translate(8.21px,-1.51px) scale(0.8366,1.0400)","r8c4":"translate(-3.02px,-26.53px) scale(1.5750,2.2000)","r8c5":"translate(0.59px,-0.45px) scale(0.9105,1.0000)","r9c1":"translate(-6.06px,-1.10px) scale(1.0462,1.0000)","r9c2":"translate(-3.06px,-2.10px) scale(1.2029,1.0000)","r9c3":"translate(7.61px,-1.80px) scale(0.8910,1.0400)","r9c4":"translate(1.06px,-0.70px) scale(0.9222,1.0000)","r9c5":"translate(-2.07px,-0.70px) scale(1.0676,1.0000)","h1":"translate(-15.27px,-5.42px) scale(1.0500,1.3462)","h2":"translate(-1.06px,-0.33px) scale(1.0625,1.0467)","h3":"translate(2.85px,1.33px) scale(0.9293,0.9733)","h4a":"translate(-1.77px,-4.37px) scale(1.0667,1.2083)","h4b":"translate(3.35px,-6.86px) scale(0.9277,1.3182)","h4c":"translate(-0.84px,2.14px) scale(1.0617,0.8286)","h5a":"translate(2.05px,-4.57px) scale(1.0383,1.2333)","h5b":"translate(4.88px,0.17px) scale(0.9377,0.9667)","h5c":"translate(2.01px,-1.02px) scale(0.9971,1.1200)","title":"translate(-1.54px,3.80px) scale(0.7692,0.7692)","pg":"translate(3.50px,0.12px) scale(0.9231,1.0536)","site":"translate(-0.02px,1.68px) scale(1.0093,0.9737)","date":"translate(-2.02px,0.08px) scale(0.9219,0.8026)","sub":"translate(0.94px,4.30px) scale(0.8465,0.7741)","note1":"translate(-1.01px,2.20px) scale(1.0139,1.0000)","note2":"translate(0.00px,1.80px) scale(1.0078,1.0000)","note3":"translate(-1.43px,1.70px) scale(1.0205,1.0000)"},G={"title": "Rubik", "note1": "Rubik", "note2": "Rubik", "note3": "Rubik", "site": "Jost"},H={};
['Vazirmatn','Rubik','Jost'].forEach(function(f){H[f]=has(f);});
if(!H.Vazirmatn)document.body.classList.add('fbv');if(!H.Rubik)document.body.classList.add('fbr');
for(var id in FB){var g=G[id]||'Vazirmatn';if(!H[g]){var e=document.getElementById(id);if(e)e.style.transform=FB[id];}}
})();
</script>
</body>
</html>
